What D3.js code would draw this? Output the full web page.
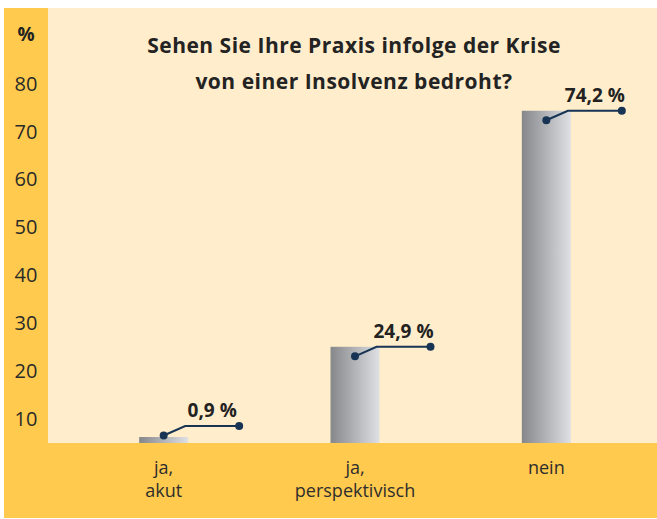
<!DOCTYPE html>
<html>
<head>
<meta charset="utf-8">
<script src="https://cdn.jsdelivr.net/npm/d3@7"></script>
<style>
  body { margin: 0; background: #fff; }
  svg { display: block; font-family: "Open Sans", sans-serif; }
</style>
</head>
<body>
<div id="chart"></div>
<script>
// Values
const categories = ["ja,\nakut", "ja,\nperspektivisch", "nein"];
const values = [0.9, 24.9, 74.2];
const valueLabels = ["0,9 %", "24,9 %", "74,2 %"];
const yTicks = [10, 20, 30, 40, 50, 60, 70, 80];
const titleLines = ["Sehen Sie Ihre Praxis infolge der Krise", "von einer Insolvenz bedroht?"];

const W = 657, H = 519;
const panel = { left: 4, top: 8, right: 657, bottom: 518 };
const axisBandWidth = 44;     // yellow strip on the left
const baseline = 443;         // top of the yellow strip at the bottom
const barWidth = 49;

const svg = d3.select("#chart").append("svg")
  .attr("width", W)
  .attr("height", H);

// Gradient for bars (dark left, light right)
const grad = svg.append("defs").append("linearGradient")
  .attr("id", "barGrad")
  .attr("x1", "0%").attr("x2", "100%").attr("y1", "0%").attr("y2", "0%");
grad.append("stop").attr("offset", "0%").attr("stop-color", "#85878b");
grad.append("stop").attr("offset", "100%").attr("stop-color", "#dfe0e3");

// Backgrounds
svg.append("rect")
  .attr("x", panel.left).attr("y", panel.top)
  .attr("width", panel.right - panel.left).attr("height", panel.bottom - panel.top)
  .attr("fill", "#ffedcb");
svg.append("rect")
  .attr("x", panel.left).attr("y", panel.top)
  .attr("width", axisBandWidth).attr("height", panel.bottom - panel.top)
  .attr("fill", "#ffca4d");
svg.append("rect")
  .attr("x", panel.left).attr("y", baseline)
  .attr("width", panel.right - panel.left).attr("height", panel.bottom - baseline)
  .attr("fill", "#ffca4d");

// Scales
const y = d3.scaleLinear().domain([0, 80]).range([466, 83]);
const x = d3.scalePoint().domain(categories).range([68, 642]).padding(0.5);

// Y axis labels
const yAxis = svg.append("g")
  .attr("transform", `translate(${panel.left + axisBandWidth / 2},0)`)
  .call(d3.axisLeft(y).tickValues(yTicks).tickSize(0).tickPadding(0));
yAxis.select(".domain").remove();
yAxis.selectAll("text")
  .attr("text-anchor", "middle")
  .attr("dy", "0.36em")
  .style("font-family", "Open Sans, sans-serif")
  .style("font-size", "20px")
  .style("fill", "#2a2a2a");

svg.append("text")
  .attr("x", panel.left + axisBandWidth / 2)
  .attr("y", 41)
  .attr("text-anchor", "middle")
  .style("font-size", "19px")
  .style("font-weight", "700")
  .style("fill", "#222")
  .text("%");

// Title
svg.append("text")
  .attr("x", 354)
  .attr("text-anchor", "middle")
  .style("font-size", "21px")
  .style("font-weight", "700")
  .style("letter-spacing", "0.5px")
  .style("fill", "#232323")
  .selectAll("tspan")
  .data(titleLines)
  .join("tspan")
  .attr("x", 354)
  .attr("y", (d, i) => 53 + i * 36)
  .text(d => d);

// Bars (tiny values kept visible with a minimum height)
const barTop = v => Math.min(y(v), baseline - 6);

svg.selectAll(".bar")
  .data(values)
  .join("rect")
  .attr("class", "bar")
  .attr("x", (d, i) => x(categories[i]) - barWidth / 2)
  .attr("y", d => barTop(d))
  .attr("width", barWidth)
  .attr("height", d => baseline - barTop(d))
  .attr("fill", "url(#barGrad)");

// Callouts: dot on bar, bent line, dot at the end, label above
const lineColor = "#173455";
const callouts = svg.selectAll(".callout")
  .data(values)
  .join("g")
  .attr("class", "callout");

callouts.each(function (d, i) {
  const g = d3.select(this);
  const cx = x(categories[i]);
  const right = cx + barWidth / 2;
  const ly = Math.min(barTop(d), baseline - 17);
  const pts = [[cx, ly + 9.5], [right - 3, ly], [right + 51, ly]];

  g.append("path")
    .attr("d", d3.line()(pts))
    .attr("fill", "none")
    .attr("stroke", lineColor)
    .attr("stroke-width", 2);
  g.append("circle").attr("cx", pts[0][0]).attr("cy", pts[0][1]).attr("r", 4).attr("fill", lineColor);
  g.append("circle").attr("cx", pts[2][0]).attr("cy", pts[2][1]).attr("r", 4).attr("fill", lineColor);

  g.append("text")
    .attr("x", (pts[1][0] + pts[2][0]) / 2)
    .attr("y", ly - 9)
    .attr("text-anchor", "middle")
    .style("font-size", "19px")
    .style("font-weight", "700")
    .style("fill", "#222")
    .text(valueLabels[i]);
});

// Category labels
svg.selectAll(".cat")
  .data(categories)
  .join("text")
  .attr("class", "cat")
  .attr("text-anchor", "middle")
  .style("font-size", "18px")
  .style("fill", "#2e2e2e")
  .each(function (d) {
    d3.select(this).selectAll("tspan")
      .data(d.split("\n"))
      .join("tspan")
      .attr("x", x(d))
      .attr("y", (t, j) => 474 + j * 23)
      .text(t => t);
  });
</script>
</body>
</html>
